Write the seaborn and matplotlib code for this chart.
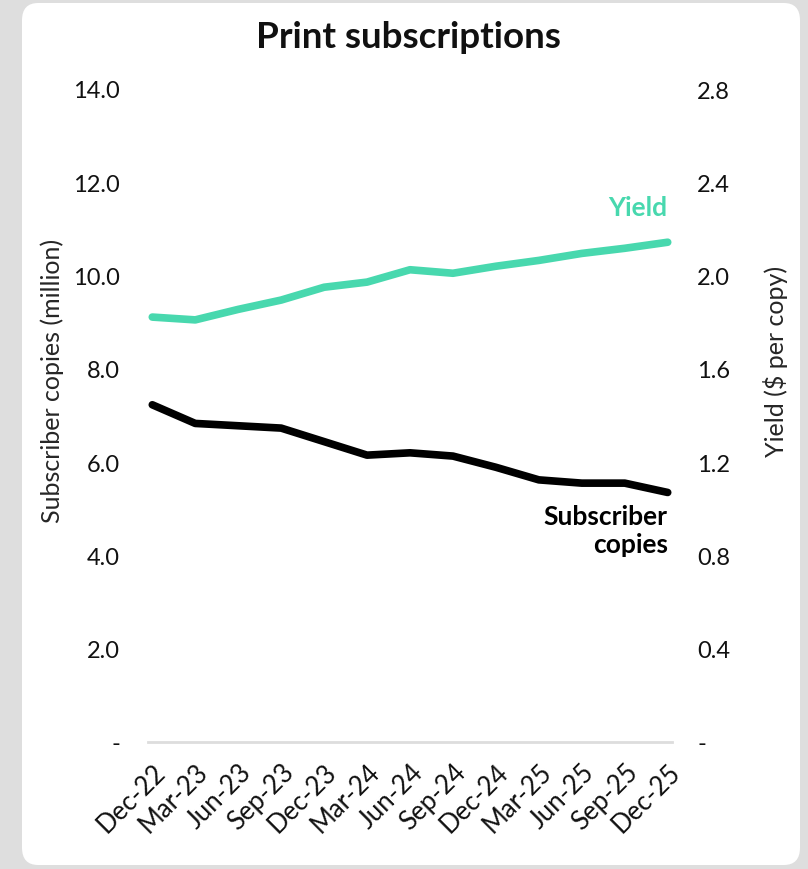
import matplotlib
matplotlib.use("Agg")
import matplotlib.pyplot as plt
from matplotlib.patches import FancyBboxPatch
import seaborn as sns
import pandas as pd

quarters = ['Dec-22', 'Mar-23', 'Jun-23', 'Sep-23', 'Dec-23', 'Mar-24', 'Jun-24',
            'Sep-24', 'Dec-24', 'Mar-25', 'Jun-25', 'Sep-25', 'Dec-25']
copies = [7.23, 6.83, 6.78, 6.73, 6.44, 6.15, 6.20, 6.13, 5.89, 5.62, 5.55, 5.55, 5.35]
yield_vals = [1.822, 1.81, 1.855, 1.895, 1.95, 1.972, 2.025, 2.01, 2.04, 2.065, 2.095, 2.117, 2.143]
left_ticks = [0, 2, 4, 6, 8, 10, 12, 14]
right_ticks = [0, 0.4, 0.8, 1.2, 1.6, 2.0, 2.4, 2.8]

sns.set_theme(style="white")
plt.rcParams['font.family'] = ['Lato', 'DejaVu Sans']

teal = '#48d8ae'
df = pd.DataFrame({'q': range(len(quarters)), 'copies': copies, 'yield': yield_vals})

fig = plt.figure(figsize=(8.08, 8.7), dpi=100)
fig.patch.set_facecolor('#dedede')
W, H = 808, 870
card = FancyBboxPatch((22 / W, 4 / H), 778 / W, 862 / H, boxstyle="round,pad=0,rounding_size=0.02",
                      transform=fig.transFigure, facecolor='white', edgecolor='none', zorder=-10)
fig.patches.append(card)

ax = fig.add_axes([148 / W, (H - 743) / H, 524 / W, 653 / H])
ax.patch.set_alpha(0)
ax2 = ax.twinx()

sns.lineplot(data=df, x='q', y='copies', ax=ax, color='black', lw=5.5, solid_capstyle='round')
sns.lineplot(data=df, x='q', y='yield', ax=ax2, color=teal, lw=5.5, solid_capstyle='round')

ax.set_xlim(-0.1, 12.1)
ax.set_ylim(0, 14)
ax2.set_ylim(0, 2.8)

ax.set_yticks(left_ticks)
ax.set_yticklabels(['-'] + [f'{v:.1f}' for v in left_ticks[1:]])
ax2.set_yticks(right_ticks)
ax2.set_yticklabels(['-'] + [f'{v:.1f}' for v in right_ticks[1:]])
ax.set_xticks(range(len(quarters)))
ax.set_xticklabels(quarters, rotation=45, ha='right', rotation_mode='anchor')

ax.tick_params(axis='y', length=0, pad=20, labelsize=17, labelcolor='#111111')
ax2.tick_params(axis='y', length=0, pad=18, labelsize=17, labelcolor='#111111')
ax.tick_params(axis='x', length=0, pad=12, labelsize=18.5, labelcolor='#111111')

for a in (ax, ax2):
    for s in ['top', 'left', 'right', 'bottom']:
        a.spines[s].set_visible(False)
ax.spines['bottom'].set_visible(True)
ax.spines['bottom'].set_color('#dddddd')
ax.spines['bottom'].set_linewidth(2)

ax.set_xlabel('')
ax.set_ylabel('Subscriber copies (million)', fontsize=18)
ax2.set_ylabel('Yield (\\$ per copy)', fontsize=18)
ax.yaxis.set_label_coords(-0.16, 0.554)
ax2.yaxis.set_label_coords(1.174, 0.585)

ax2.text(12, 2.295, 'Yield', ha='right', va='center', color=teal, fontsize=19, fontweight='bold')
ax.text(12, 4.55, 'Subscriber\ncopies', ha='right', va='center', color='black', fontsize=19,
        fontweight='bold', multialignment='right', linespacing=1.2)

fig.text(0.505, 1 - 38 / H, 'Print subscriptions', ha='center', va='center', fontsize=26.5,
         fontweight='bold', color='#111111')

fig.savefig('out.png', dpi=100, facecolor=fig.get_facecolor())
